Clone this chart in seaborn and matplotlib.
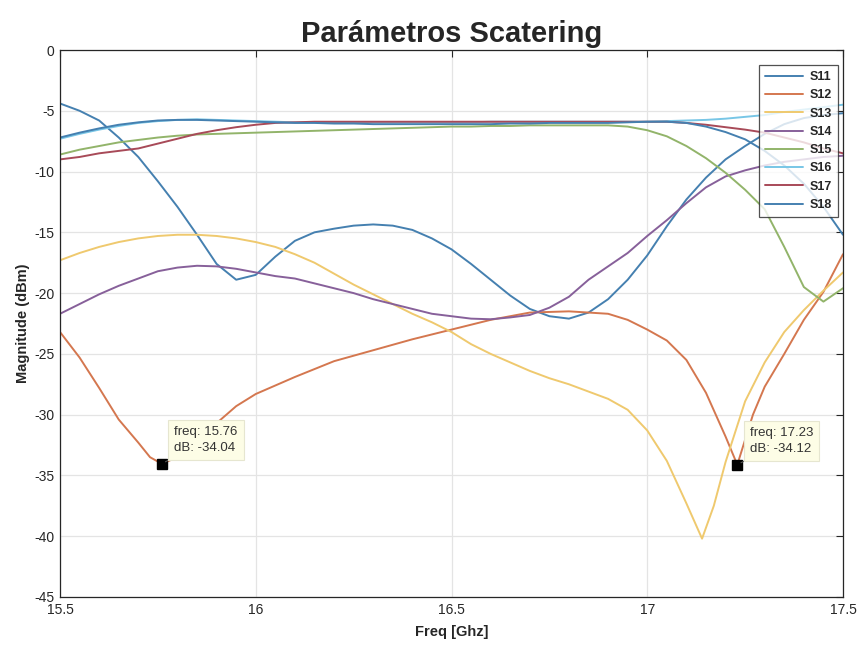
import numpy as np
import pandas as pd
import matplotlib
matplotlib.use("Agg")
import matplotlib.pyplot as plt
import seaborn as sns

# Frequency grid shared by most S-parameters (GHz)
freq = [15.50, 15.55, 15.60, 15.65, 15.70, 15.75, 15.80, 15.85, 15.90, 15.95,
        16.00, 16.05, 16.10, 16.15, 16.20, 16.25, 16.30, 16.35, 16.40, 16.45,
        16.50, 16.55, 16.60, 16.65, 16.70, 16.75, 16.80, 16.85, 16.90, 16.95,
        17.00, 17.05, 17.10, 17.15, 17.20, 17.25, 17.30, 17.35, 17.40, 17.45,
        17.50]

s11 = [-4.4, -5.0, -5.8, -7.2, -8.8, -10.8, -12.9, -15.2, -17.6, -18.9,
       -18.5, -17.0, -15.7, -15.0, -14.7, -14.45, -14.35, -14.45, -14.8, -15.5,
       -16.4, -17.6, -18.9, -20.2, -21.3, -21.9, -22.1, -21.6, -20.5, -18.9,
       -16.9, -14.5, -12.3, -10.5, -9.0, -7.9, -6.9, -6.1, -5.6, -5.35,
       -5.2]

# S12 has two sharp notches, sampled more densely around them
freq_s12 = [15.50, 15.55, 15.60, 15.65, 15.70, 15.73, 15.76, 15.80, 15.85, 15.90,
            15.95, 16.00, 16.10, 16.20, 16.30, 16.40, 16.50, 16.60, 16.70, 16.80,
            16.90, 16.95, 17.00, 17.05, 17.10, 17.15, 17.20, 17.23, 17.27, 17.30,
            17.35, 17.40, 17.45, 17.50]
s12 = [-23.2, -25.3, -27.8, -30.4, -32.3, -33.5, -34.04, -33.5, -32.3, -30.7,
       -29.3, -28.3, -26.9, -25.6, -24.7, -23.8, -23.0, -22.2, -21.6, -21.5,
       -21.7, -22.2, -23.0, -23.9, -25.5, -28.2, -31.8, -34.12, -30.0, -27.7,
       -25.0, -22.2, -19.9, -16.8]

freq_s13 = [15.50, 15.55, 15.60, 15.65, 15.70, 15.75, 15.80, 15.85, 15.90, 15.95,
            16.00, 16.05, 16.10, 16.15, 16.20, 16.25, 16.30, 16.35, 16.40, 16.45,
            16.50, 16.55, 16.60, 16.65, 16.70, 16.75, 16.80, 16.85, 16.90, 16.95,
            17.00, 17.05, 17.10, 17.14, 17.17, 17.20, 17.25, 17.30, 17.35, 17.40,
            17.45, 17.50]
s13 = [-17.3, -16.7, -16.2, -15.8, -15.5, -15.3, -15.2, -15.2, -15.3, -15.5,
       -15.8, -16.2, -16.8, -17.5, -18.4, -19.3, -20.1, -20.9, -21.7, -22.4,
       -23.2, -24.2, -25.0, -25.7, -26.4, -27.0, -27.5, -28.1, -28.7, -29.6,
       -31.3, -33.8, -37.3, -40.2, -37.5, -33.9, -28.9, -25.7, -23.2, -21.4,
       -19.8, -18.3]

s14 = [-21.7, -20.9, -20.1, -19.4, -18.8, -18.2, -17.9, -17.75, -17.8, -18.0,
       -18.3, -18.6, -18.8, -19.2, -19.6, -20.0, -20.5, -20.9, -21.3, -21.7,
       -21.9, -22.1, -22.15, -22.0, -21.8, -21.2, -20.3, -18.9, -17.8, -16.7,
       -15.3, -14.0, -12.6, -11.3, -10.4, -9.9, -9.5, -9.2, -9.0, -8.8,
       -8.7]

s15 = [-8.6, -8.2, -7.9, -7.6, -7.4, -7.2, -7.05, -6.95, -6.9, -6.85,
       -6.8, -6.75, -6.7, -6.65, -6.6, -6.55, -6.5, -6.45, -6.4, -6.35,
       -6.3, -6.3, -6.25, -6.25, -6.2, -6.2, -6.2, -6.2, -6.2, -6.3,
       -6.6, -7.1, -7.9, -8.9, -10.1, -11.5, -13.1, -16.2, -19.5, -20.7,
       -19.6]

s16 = [-7.3, -6.9, -6.55, -6.25, -6.0, -5.85, -5.75, -5.7, -5.75, -5.8,
       -5.85, -5.9, -5.95, -5.95, -5.95, -5.95, -5.95, -5.95, -5.95, -5.95,
       -5.95, -5.95, -5.9, -5.9, -5.9, -5.9, -5.9, -5.9, -5.9, -5.9,
       -5.9, -5.85, -5.8, -5.75, -5.65, -5.5, -5.35, -5.1, -4.9, -4.7,
       -4.5]

s17 = [-9.0, -8.8, -8.5, -8.3, -8.1, -7.7, -7.3, -6.9, -6.6, -6.35,
       -6.15, -6.0, -5.95, -5.9, -5.9, -5.9, -5.9, -5.9, -5.9, -5.9,
       -5.9, -5.9, -5.9, -5.9, -5.9, -5.9, -5.9, -5.9, -5.9, -5.9,
       -5.9, -5.9, -6.0, -6.15, -6.35, -6.55, -6.8, -7.2, -7.6, -8.1,
       -8.5]

s18 = [-7.2, -6.8, -6.45, -6.15, -5.95, -5.8, -5.75, -5.75, -5.8, -5.85,
       -5.9, -5.95, -6.0, -6.0, -6.05, -6.05, -6.1, -6.1, -6.1, -6.1,
       -6.1, -6.1, -6.1, -6.05, -6.05, -6.0, -6.0, -6.0, -6.0, -5.95,
       -5.9, -5.9, -6.0, -6.3, -6.75, -7.35, -8.3, -9.5, -11.0, -12.9,
       -15.2]

labels = ["S11", "S12", "S13", "S14", "S15", "S16", "S17", "S18"]
colors = ["#4580b0", "#d4774f", "#efc96e", "#87609a", "#92b46a",
          "#78c6e6", "#a84a58", "#4580b0"]

# Data cursors placed on the two S12 notches
tip_idx = [freq_s12.index(15.76), freq_s12.index(17.23)]

series = [(freq, s11), (freq_s12, s12), (freq_s13, s13), (freq, s14),
          (freq, s15), (freq, s16), (freq, s17), (freq, s18)]
df = pd.concat(
    [pd.DataFrame({"freq": f, "dB": v, "param": name})
     for name, (f, v) in zip(labels, series)],
    ignore_index=True)

sns.set_theme(style="white")
plt.rcParams["font.family"] = ["Liberation Sans", "DejaVu Sans"]
plt.rcParams["axes.unicode_minus"] = False

fig = plt.figure(figsize=(8.59, 6.48), dpi=100)
ax = fig.add_axes([60 / 859, 1 - 597 / 648, (843 - 60) / 859, (597 - 50) / 648])

sns.lineplot(data=df, x="freq", y="dB", hue="param", hue_order=labels,
             palette=dict(zip(labels, colors)), estimator=None, sort=False,
             linewidth=1.4, ax=ax)
for ln in ax.get_lines():
    ln.set_solid_joinstyle("round")

ax.set_xlim(15.5, 17.5)
ax.set_ylim(-45, 0)
ax.set_xticks([15.5, 16, 16.5, 17, 17.5])
ax.set_xticklabels(["15.5", "16", "16.5", "17", "17.5"])
ax.set_yticks(np.arange(-45, 1, 5))
ax.grid(True, color="#e4e4e4", linewidth=0.9)
ax.set_axisbelow(True)
for sp in ax.spines.values():
    sp.set_color("#262626")
    sp.set_linewidth(0.9)
ax.tick_params(direction="in", length=5, width=0.8, color="#262626",
               top=True, right=True, labelsize=10, labelcolor="#262626", pad=4)

ax.set_title("Parámetros Scatering", fontsize=21, fontweight="bold", pad=6)
ax.set_xlabel("Freq [Ghz]", fontsize=10.5, fontweight="bold", labelpad=6)
ax.set_ylabel("Magnitude (dBm)", fontsize=10.5, fontweight="bold", labelpad=3)

leg = ax.legend(loc="upper right", bbox_to_anchor=(0.9936, 0.9726),
                borderaxespad=0, fontsize=9, frameon=True, fancybox=False,
                handlelength=3.0, labelspacing=0.5, borderpad=0.5,
                handletextpad=0.5)
leg.get_frame().set_edgecolor("#262626")
leg.get_frame().set_linewidth(0.9)
for t in leg.get_texts():
    t.set_fontweight("bold")

for i in tip_idx:
    fx, fy = freq_s12[i], s12[i]
    ax.plot([fx], [fy], marker="s", markersize=7, color="black", zorder=6)
    ax.annotate(f"freq: {fx:.2f}\ndB: {fy:.2f}", xy=(fx, fy),
                xytext=(9, 7), textcoords="offset points",
                ha="left", va="bottom", fontsize=9.5, color="#333333",
                linespacing=1.45,
                bbox=dict(boxstyle="square,pad=0.45", fc="#fdfde6",
                          ec="#e6e6d0", lw=0.8),
                arrowprops=dict(arrowstyle="-", color="#555555", lw=0.8,
                                shrinkA=0, shrinkB=3),
                zorder=7)

fig.savefig("out.png", dpi=100)
